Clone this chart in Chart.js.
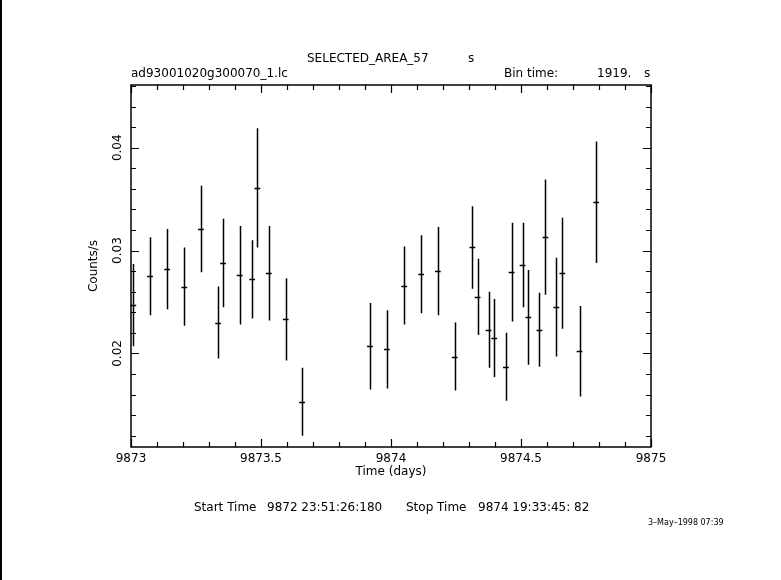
<!DOCTYPE html>
<html>
<head>
<meta charset="utf-8">
<script src="https://cdn.jsdelivr.net/npm/chart.js@4"></script>
<style>
  body { margin: 0; background: #fff; }
</style>
</head>
<body>
<canvas id="lc" width="781" height="580"></canvas>
<script>
// LIGHT CURVE DATA
const timeDays = [9873.009, 9873.073, 9873.139, 9873.205, 9873.269, 9873.335, 9873.354, 9873.418,
  9873.466, 9873.486, 9873.530, 9873.595, 9873.658, 9873.919, 9873.984, 9874.051, 9874.116,
  9874.180, 9874.245, 9874.313, 9874.333, 9874.375, 9874.397, 9874.442, 9874.464, 9874.506,
  9874.528, 9874.571, 9874.594, 9874.636, 9874.659, 9874.725, 9874.789];
const rate = [0.0247, 0.0275, 0.0282, 0.0265, 0.0321, 0.0230, 0.0288, 0.0276,
  0.0272, 0.0361, 0.0278, 0.0233, 0.0153, 0.0207, 0.0204, 0.0266, 0.0277,
  0.0280, 0.0197, 0.0303, 0.0255, 0.0223, 0.0215, 0.0187, 0.0279, 0.0286,
  0.0235, 0.0223, 0.0313, 0.0245, 0.0278, 0.0202, 0.0347];
const rateErr = [0.0040, 0.0038, 0.0039, 0.0038, 0.0042, 0.0035, 0.0043, 0.0048,
  0.0038, 0.0058, 0.0046, 0.0040, 0.0033, 0.0042, 0.0038, 0.0038, 0.0038,
  0.0043, 0.0033, 0.0040, 0.0037, 0.0037, 0.0038, 0.0033, 0.0048, 0.0041,
  0.0046, 0.0036, 0.0056, 0.0048, 0.0054, 0.0044, 0.0059];
const binTime = 1919; // seconds

// AXES
const xTicks = [9873, 9873.5, 9874, 9874.5, 9875];
const yTicks = [0.02, 0.03, 0.04];
const xMin = 9873, xMax = 9875;
const yMin = 0.0109, yMax = 0.0461;

const FONT = "DejaVu Sans";

// draws the frame, inward ticks, error bars and the header/footer text
const qdpPlugin = {
  id: 'qdp',
  beforeDraw(chart) {
    const ctx = chart.ctx;
    ctx.save();
    ctx.fillStyle = '#fff';
    ctx.fillRect(0, 0, chart.width, chart.height);
    ctx.restore();
  },
  afterDatasetsDraw(chart) {
    const ctx = chart.ctx;
    const a = chart.chartArea;
    const x = chart.scales.x, y = chart.scales.y;
    ctx.save();
    ctx.strokeStyle = '#000';
    ctx.fillStyle = '#000';

    // frame
    ctx.lineWidth = 1.5;
    ctx.strokeRect(a.left, a.top, a.right - a.left, a.bottom - a.top);

    // x ticks, every 0.1 day
    ctx.lineWidth = 1.2;
    ctx.beginPath();
    for (let k = 0; k <= 20; k++) {
      const v = xMin + k * 0.1;
      const px = Math.round(x.getPixelForValue(v)) + 0.5;
      const len = (k % 5 === 0) ? 8 : 5;
      ctx.moveTo(px, a.bottom); ctx.lineTo(px, a.bottom - len);
      ctx.moveTo(px, a.top); ctx.lineTo(px, a.top + len);
    }
    // y ticks, every 0.002
    for (let k = 6; k <= 23; k++) {
      const v = k * 0.002;
      const py = Math.round(y.getPixelForValue(v)) + 0.5;
      const len = (k % 5 === 0) ? 8 : 5;
      ctx.moveTo(a.left, py); ctx.lineTo(a.left + len, py);
      ctx.moveTo(a.right, py); ctx.lineTo(a.right - len, py);
    }
    ctx.stroke();

    // error bars
    const halfBin = binTime / 86400 / 2;
    ctx.lineWidth = 1.5;
    ctx.beginPath();
    for (let i = 0; i < timeDays.length; i++) {
      const px = Math.round(x.getPixelForValue(timeDays[i])) + 0.5;
      const py = Math.round(y.getPixelForValue(rate[i])) + 0.5;
      ctx.moveTo(px, y.getPixelForValue(rate[i] + rateErr[i]));
      ctx.lineTo(px, y.getPixelForValue(rate[i] - rateErr[i]));
      ctx.moveTo(x.getPixelForValue(timeDays[i] - halfBin), py);
      ctx.lineTo(x.getPixelForValue(timeDays[i] + halfBin), py);
    }
    ctx.stroke();

    // y tick labels, rotated like the original
    ctx.font = '12px ' + FONT;
    ctx.textAlign = 'center';
    ctx.textBaseline = 'middle';
    yTicks.forEach(v => {
      ctx.save();
      ctx.translate(118, y.getPixelForValue(v));
      ctx.rotate(-Math.PI / 2);
      ctx.fillText(v.toFixed(2), 0, 0);
      ctx.restore();
    });

    // header
    ctx.textAlign = 'left';
    ctx.fillText('SELECTED_AREA_57', 307, 59);
    ctx.fillText('s', 468, 59);
    ctx.fillText('ad93001020g300070_1.lc', 131, 74);
    ctx.fillText('Bin time:', 504, 74);
    ctx.fillText('1919.', 597, 74);
    ctx.fillText('s', 644, 74);

    // footer
    ctx.fillText('Start Time', 194, 508);
    ctx.fillText('9872 23:51:26:180', 267, 508);
    ctx.fillText('Stop Time', 406, 508);
    ctx.fillText('9874 19:33:45: 82', 478, 508);
    ctx.font = '8px ' + FONT;
    ctx.fillText('3\u2013May\u20131998 07:39', 648, 523);

    // left edge line
    ctx.fillRect(0, 0, 2, chart.height);
    ctx.restore();
  }
};

const ctx = document.getElementById('lc').getContext('2d');
const chart = new Chart(ctx, {
  type: 'scatter',
  data: {
    datasets: [{
      label: 'SELECTED_AREA_57',
      data: timeDays.map((t, i) => ({ x: t, y: rate[i] })),
      pointRadius: 0,
      showLine: false
    }]
  },
  options: {
    responsive: false,
    animation: false,
    layout: { padding: { left: 80, top: 85, right: 130, bottom: 98 } },
    plugins: { legend: { display: false }, tooltip: { enabled: false } },
    scales: {
      x: {
        type: 'linear',
        min: xMin, max: xMax,
        grid: { display: false, drawTicks: false },
        border: { display: false },
        afterBuildTicks: s => { s.ticks = xTicks.map(v => ({ value: v })); },
        afterFit: s => { s.height = 35; },
        ticks: {
          autoSkip: false, maxRotation: 0, padding: 5,
          color: '#000', font: { family: FONT, size: 12 },
          callback: v => String(v)
        },
        title: {
          display: true, text: 'Time (days)', color: '#000',
          font: { family: FONT, size: 12 }, padding: { top: 0, bottom: 3 }
        }
      },
      y: {
        type: 'linear',
        min: yMin, max: yMax,
        grid: { display: false, drawTicks: false },
        border: { display: false },
        afterFit: s => { s.width = 51; },
        ticks: { display: false },
        title: {
          display: true, text: 'Counts/s', color: '#000',
          font: { family: FONT, size: 12 }, padding: { top: 7, bottom: 0 }
        }
      }
    }
  },
  plugins: [qdpPlugin]
});
</script>
</body>
</html>
